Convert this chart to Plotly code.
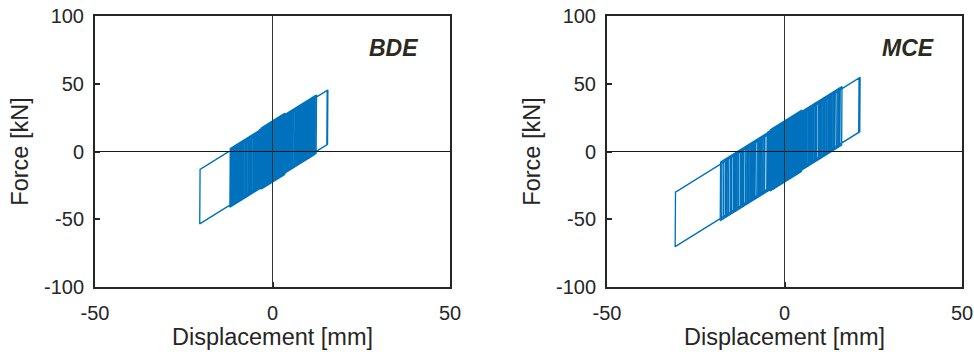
import plotly.graph_objects as go

# ---------------- data ----------------
# displacement reversal points [mm] of the bearing response, split in phases
bde_phases = [
    [0.6, -0.9, 1.3, -1.1, 1.9, -1.6, 2.3, -2.1, 1.6, -2.6, 2.8, -1.4, 3.2, -2.9,
     2.0, -0.4, 3.5, -3.0, 1.0, -2.4, 0.2, -1.9, 2.6, -0.7, 1.4, -2.8, 3.1, -1.2,
     0.5, -2.2, 1.7, -0.1, 2.9, -3.3, 0.9, -1.5, 2.2, -2.5, 3.4, -0.9],
    [3.8, -4.5, 4.5, -5.9, 6.3, -4.9, 7.3, -6.3, 7.9, -6.8, 8.7, -8.2, 9.4, -9.2,
     9.9, -10.1, 10.6, -10.6, 4.2, -3.8, 5.0, -4.2, 6.6, -5.2, 7.6, -6.6, 8.3,
     -7.5, 9.1, -8.6, 10.2, -9.0, 11.0, -9.9],
    [15.6, -20.5, 15.4, -11.0],
    [11.3, -11.5, 11.9, -12.0, 12.4, -10.3, 8.1, -9.7, 5.3, -7.2, 4.9, -5.5, 4.1,
     -4.0, 3.0, -3.6, 2.6, -2.3, 3.3, -1.8, 1.5, -2.7, 2.1, -0.8, 1.2, -1.3, 0.3,
     -2.0, 2.4, -0.2, 0.8, -1.6, 1.8, -0.6, 0.9, -1.0, 0.5, 3.9, -4.7, 5.6, -5.0,
     6.9, -6.1, 4.7, -3.4, 10.9, -11.8, 12.0, -11.3, 9.6, -10.8, 8.5, -10.4,
     7.1, -8.9, 5.9, -4.3, 6.5, -7.8, 7.4, -8.4, 9.0, -9.4, 10.4, -11.1, 11.6,
     -6.7, 5.7, -5.3, 4.4, -4.9, 3.7, -3.9],
    [1.1, -0.3, 2.7, -1.7, 0.1, -2.6, 1.9, -0.5, 3.6, -2.1, 0.7, -1.1, 2.5, -3.1,
     1.3, -0.8, 0.4],
]
mce_phases = [
    [0.7, -1.0, 1.5, -1.3, 2.2, -1.9, 2.7, -2.5, 1.8, -3.1, 3.3, -1.6, 3.8, -3.5,
     2.4, -0.5, 4.2, -3.8, 1.1, -2.8, 4.6, -4.1, 4.9, -3.2, 0.3, -2.2, 3.0, -0.8,
     1.6, -3.4, 3.6, -1.4, 0.6, -2.6, 2.0, -0.2, 4.4, -3.9, 1.2, -1.8, 2.6, -3.0,
     3.9, -1.1],
    [5.3, -4.1, 6.8, -6.9, 7.7, -7.8, 8.6, -8.3, 9.6, -9.7, 10.5, -10.6, 11.5,
     -11.5, 12.4, -12.5, 5.8, -5.0, 7.2, -6.2, 8.1, -7.3, 9.1, -8.8, 10.0, -9.2,
     11.0, -10.1, 11.9, -12.0],
    [21.3, -30.8, 21.0, -13.4],
    [13.4, -13.9, 13.8, -14.9, 14.8, -15.3, 15.2, -16.2, 16.2, -16.7, 12.0, -17.2,
     9.0, -17.7, 7.5, -18.1, 6.0, -9.0, 5.0, -4.4, 3.6, -3.4, 2.9, -2.2, 4.0,
     -1.5, 2.0, -2.9, 3.1, -0.9, 1.3, -2.0, 2.6, -0.3, 0.9, -1.7, 1.7, -0.7, 0.4,
     5.5, -5.6, 6.4, -6.6, 12.9, -14.4, 14.3, -15.8, 15.7, -16.4, 10.9, -13.0,
     8.2, -11.0, 6.9, -7.4, 5.1, -4.6, 8.8, -9.5, 9.9, -10.3, 11.2, -12.2, 13.1,
     -13.6, 14.1, -15.0, 15.5, -14.2, 12.6, -11.8, 10.2, -8.6, 7.8, -7.0, 6.2,
     -5.8, 4.7, -4.9],
    [1.4, -0.4, 3.2, -2.4, 0.2, -3.6, 2.3, -0.6, 4.1, -2.7, 0.8, -1.2, 3.4, -3.3,
     1.9, -1.0, 0.5],
]
# characteristic strength Q [kN] in each phase (lead core softens during big cycles)
phase_strength = [22.5, 21.0, 20.0, 21.5, 22.0]
post_stiffness = 1.63      # kd [kN/mm]
elastic_stiffness = 400.0  # ku [kN/mm]

panel_labels = ["BDE", "MCE"]
x_ticks = [-50, 0, 50]
y_ticks = [-100, -50, 0, 50, 100]


def bilinear_path(phases, strengths, kd, ku):
    d, F = 0.0, 0.0
    xs, ys = [d], [F]
    for peaks, Q in zip(phases, strengths):
        for p in peaks:
            s = 1.0 if p > d else -1.0
            xy = (s * Q - F + ku * d) / (ku - kd)
            if (xy - p) * s < 0:
                xs.append(xy)
                ys.append(s * Q + kd * xy)
                F = s * Q + kd * p
            else:
                F = F + ku * (p - d)
            d = p
            xs.append(d)
            ys.append(F)
    return xs, ys


fig = go.Figure()
txt = "#262626"
font_fam = "Arial, Liberation Sans, sans-serif"

for i, phases in enumerate([bde_phases, mce_phases]):
    xs, ys = bilinear_path(phases, phase_strength, post_stiffness, elastic_stiffness)
    ax = "" if i == 0 else "2"
    fig.add_trace(go.Scatter(x=xs, y=ys, mode="lines",
                             line=dict(color="#0072BD", width=1.35),
                             xaxis="x" + ax, yaxis="y" + ax,
                             showlegend=False, hoverinfo="skip"))

dom_x = [[95 / 974, 450 / 974], [607 / 974, 962 / 974]]
dom_y = [1 - 287 / 361, 1 - 16 / 361]

axis_common = dict(showgrid=False, zeroline=False, showline=True, mirror=True,
                   linecolor=txt, linewidth=2, ticks="inside", ticklen=5,
                   tickwidth=1.5, tickcolor=txt, automargin=False,
                   tickfont=dict(family=font_fam, size=20, color=txt))

layout = dict(width=974, height=361, margin=dict(l=0, r=0, t=0, b=0),
              plot_bgcolor="white", paper_bgcolor="white", showlegend=False)
for i in range(2):
    ax = "" if i == 0 else "2"
    layout["xaxis" + ax] = dict(axis_common, domain=dom_x[i], range=[-50, 50],
                                tickvals=x_ticks, ticktext=[str(v) for v in x_ticks],
                                anchor="y" + ax, ticklabelstandoff=7,
                                title=dict(text="Displacement [mm]", standoff=0,
                                           font=dict(family=font_fam, size=23.5, color=txt)))
    layout["yaxis" + ax] = dict(axis_common, domain=dom_y, range=[-100, 100],
                                tickvals=y_ticks, ticktext=[str(v) for v in y_ticks],
                                anchor="x" + ax, ticklabelstandoff=5,
                                title=dict(text="Force [kN]", standoff=9,
                                           font=dict(family=font_fam, size=23.5, color=txt)))
fig.update_layout(**layout)

# zero reference lines drawn above the loops
shapes = []
for i in range(2):
    ax = "" if i == 0 else "2"
    shapes.append(dict(type="line", xref="x" + ax + " domain", yref="y" + ax,
                       x0=0, x1=1, y0=0, y1=0, layer="above",
                       line=dict(color="#1a1a1a", width=1)))
    shapes.append(dict(type="line", xref="x" + ax, yref="y" + ax + " domain",
                       x0=0, x1=0, y0=0, y1=1, layer="above",
                       line=dict(color="#333333", width=1)))
fig.update_layout(shapes=shapes)

label_pos = [(393 / 974, 1 - 48 / 361), (908 / 974, 1 - 48 / 361)]
for lab, (px, py) in zip(panel_labels, label_pos):
    fig.add_annotation(text="<b><i>" + lab + "</i></b>", xref="paper", yref="paper",
                       x=px, y=py, showarrow=False, xanchor="center", yanchor="middle",
                       font=dict(family=font_fam, size=23, color="#2b2a20"))

fig.write_html("out.html")
